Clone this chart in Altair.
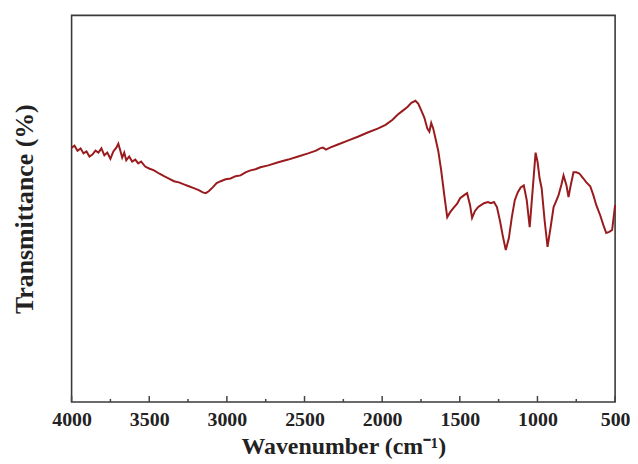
import altair as alt
import pandas as pd

wavenumber = [4000, 3981, 3962, 3942, 3923, 3904, 3885, 3866, 3846, 3827, 3808, 3789, 3770, 3750,
              3731, 3712, 3699, 3686, 3674, 3661, 3648, 3629, 3610, 3590, 3571, 3552, 3526, 3501,
              3469, 3437, 3405, 3373, 3341, 3309, 3277, 3245, 3213, 3181, 3155, 3136, 3117, 3091,
              3066, 3040, 3008, 2976, 2944, 2912, 2880, 2848, 2816, 2784, 2733, 2669, 2605, 2541,
              2477, 2426, 2400, 2381, 2362, 2336, 2285, 2221, 2157, 2093, 2029, 1978, 1933, 1901,
              1869, 1837, 1812, 1786, 1767, 1747, 1728, 1709, 1696, 1684, 1671, 1658, 1639, 1620,
              1600, 1581, 1562, 1543, 1517, 1498, 1472, 1453, 1434, 1421, 1402, 1383, 1364, 1344,
              1319, 1300, 1280, 1261, 1242, 1223, 1204, 1184, 1165, 1146, 1127, 1108, 1088, 1069,
              1050, 1031, 1012, 999, 986, 973, 954, 935, 916, 896, 877, 864, 845, 832, 813, 800,
              787, 768, 749, 730, 704, 685, 660, 640, 621, 596, 576, 557, 538, 519, 500]

transmittance = [65.8, 66.3, 65.0, 65.6, 64.3, 64.8, 63.5, 64.0, 65.0, 64.5, 65.6, 63.8, 64.5, 62.9,
                 64.8, 65.8, 66.8, 65.0, 63.2, 64.5, 62.5, 63.5, 62.2, 62.7, 61.7, 62.2, 60.9, 60.4,
                 59.9, 59.1, 58.4, 57.8, 57.1, 56.8, 56.3, 55.8, 55.3, 54.8, 54.2, 54.0, 54.5, 55.5,
                 56.6, 57.1, 57.6, 57.8, 58.4, 58.6, 59.4, 59.9, 60.2, 60.7, 61.2, 62.0, 62.7, 63.5,
                 64.3, 65.0, 65.6, 65.8, 65.3, 65.8, 66.6, 67.6, 68.6, 69.7, 70.7, 71.7, 73.0, 74.3,
                 75.3, 76.3, 77.4, 77.9, 77.1, 75.3, 73.5, 70.7, 69.9, 72.2, 70.7, 68.4, 65.0, 59.9,
                 53.5, 47.8, 49.1, 50.1, 51.3, 52.7, 53.5, 54.0, 50.9, 47.6, 49.4, 50.4, 50.9, 51.4,
                 51.7, 51.4, 51.7, 50.4, 47.0, 42.9, 39.3, 42.4, 47.8, 52.2, 54.2, 55.5, 56.0, 52.2,
                 45.2, 54.8, 64.5, 62.0, 57.8, 55.3, 47.0, 40.1, 45.0, 50.4, 52.2, 53.5, 56.3, 58.6,
                 56.0, 53.0, 55.8, 59.4, 59.4, 59.1, 57.8, 56.8, 55.8, 53.5, 50.9, 48.3, 45.8, 43.7,
                 44.0, 44.5, 50.9]

major_ticks = [4000, 3500, 3000, 2500, 2000, 1500, 1000, 500]
minor_ticks = [3750, 3250, 2750, 2250, 1750, 1250, 750]

W, H = 547, 389

df = pd.DataFrame({"wn": wavenumber, "T": transmittance})
major_df = pd.DataFrame({"wn": major_ticks})
minor_df = pd.DataFrame({"wn": minor_ticks})

FONT = "Liberation Serif"
xscale = alt.Scale(domain=[4000, 500], nice=False, zero=False)
yscale = alt.Scale(domain=[0, 100], nice=False, zero=False)

main = alt.Chart(df).mark_line(color="#9a1b1e", strokeWidth=2).encode(
    x=alt.X("wn:Q", scale=xscale,
            axis=alt.Axis(values=major_ticks, format="d", ticks=False, domain=False, grid=False,
                          labelFont=FONT, labelFontSize=20, labelFontWeight="bold",
                          labelColor="#222", labelPadding=8, labelFlush=False,
                          title="Wavenumber (cm⁻¹)", titleFont=FONT, titleFontSize=24,
                          titleFontWeight="bold", titleColor="#222", titlePadding=5)),
    y=alt.Y("T:Q", scale=yscale,
            axis=alt.Axis(labels=False, ticks=False, domain=False, grid=False,
                          title="Transmittance (%)", titleFont=FONT, titleFontSize=26,
                          titleFontWeight="bold", titleColor="#222", titlePadding=34)),
)

major = alt.Chart(major_df).mark_rule(color="#444", strokeWidth=1.5).encode(
    x=alt.X("wn:Q", scale=xscale),
    y=alt.value(H - 6),
    y2=alt.value(H),
)

minor = alt.Chart(minor_df).mark_rule(color="#444", strokeWidth=1.5).encode(
    x=alt.X("wn:Q", scale=xscale),
    y=alt.value(H - 3),
    y2=alt.value(H),
)

chart = alt.layer(main, major, minor).properties(
    width=W, height=H,
    padding={"left": 4, "top": 6, "right": 0, "bottom": 0},
    background="white",
).configure_view(stroke="#3a3a3a", strokeWidth=1.6)

chart.save("out.html", embed_options={"renderer": "svg", "actions": False})
